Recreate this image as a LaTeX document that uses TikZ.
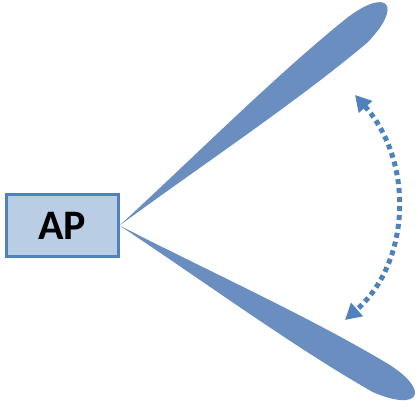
\documentclass[tikz,border=0pt]{standalone}
\usepackage{fontspec}
\setsansfont{Carlito}
\usetikzlibrary{arrows.meta, positioning, calc}
\definecolor{lobeblue}{RGB}{106,142,191}
\definecolor{apfill}{RGB}{185,205,229}
\definecolor{apline}{RGB}{79,129,189}

\begin{document}
\begin{tikzpicture}[x=1pt, y=1pt,
    apbox/.style={draw=apline, line width=3pt, fill=apfill, minimum width=112pt,
                  minimum height=62pt, font=\sffamily\bfseries\fontsize{42}{44}\selectfont},
    lobe/.style={fill=lobeblue, draw=none},
    sweep/.style={draw=apline, line width=5pt, dash pattern=on 5pt off 4pt,
                  {Triangle[length=16pt,width=17pt]}-{Triangle[length=16pt,width=17pt]}}]
  \useasboundingbox (0,0) rectangle (418,413);
  \node[apbox] (ap) at (62,187.5) {AP};
  \coordinate (feed) at ($(ap.east)+(0,0)$);
  % two beam lobes
  \foreach \ang/\len in {39.4/358, -30.3/352}{
    \fill[lobe, shift={(feed)}, rotate=\ang]
      (0,0) .. controls (0.3*\len,6) and (0.6*\len,17) .. (0.86*\len,16)
            .. controls (\len+1,14) and (\len+1,-10) .. (0.86*\len,-16)
            .. controls (0.6*\len,-17) and (0.3*\len,-6) .. (0,0) -- cycle;
  }
  % beam sweep
  \coordinate (sweeptop) at (355,318);
  \coordinate (sweepbot) at (345,93);
  \draw[sweep] (sweeptop) .. controls (415,250) and (410,150) .. (sweepbot);
\end{tikzpicture}
\end{document}
